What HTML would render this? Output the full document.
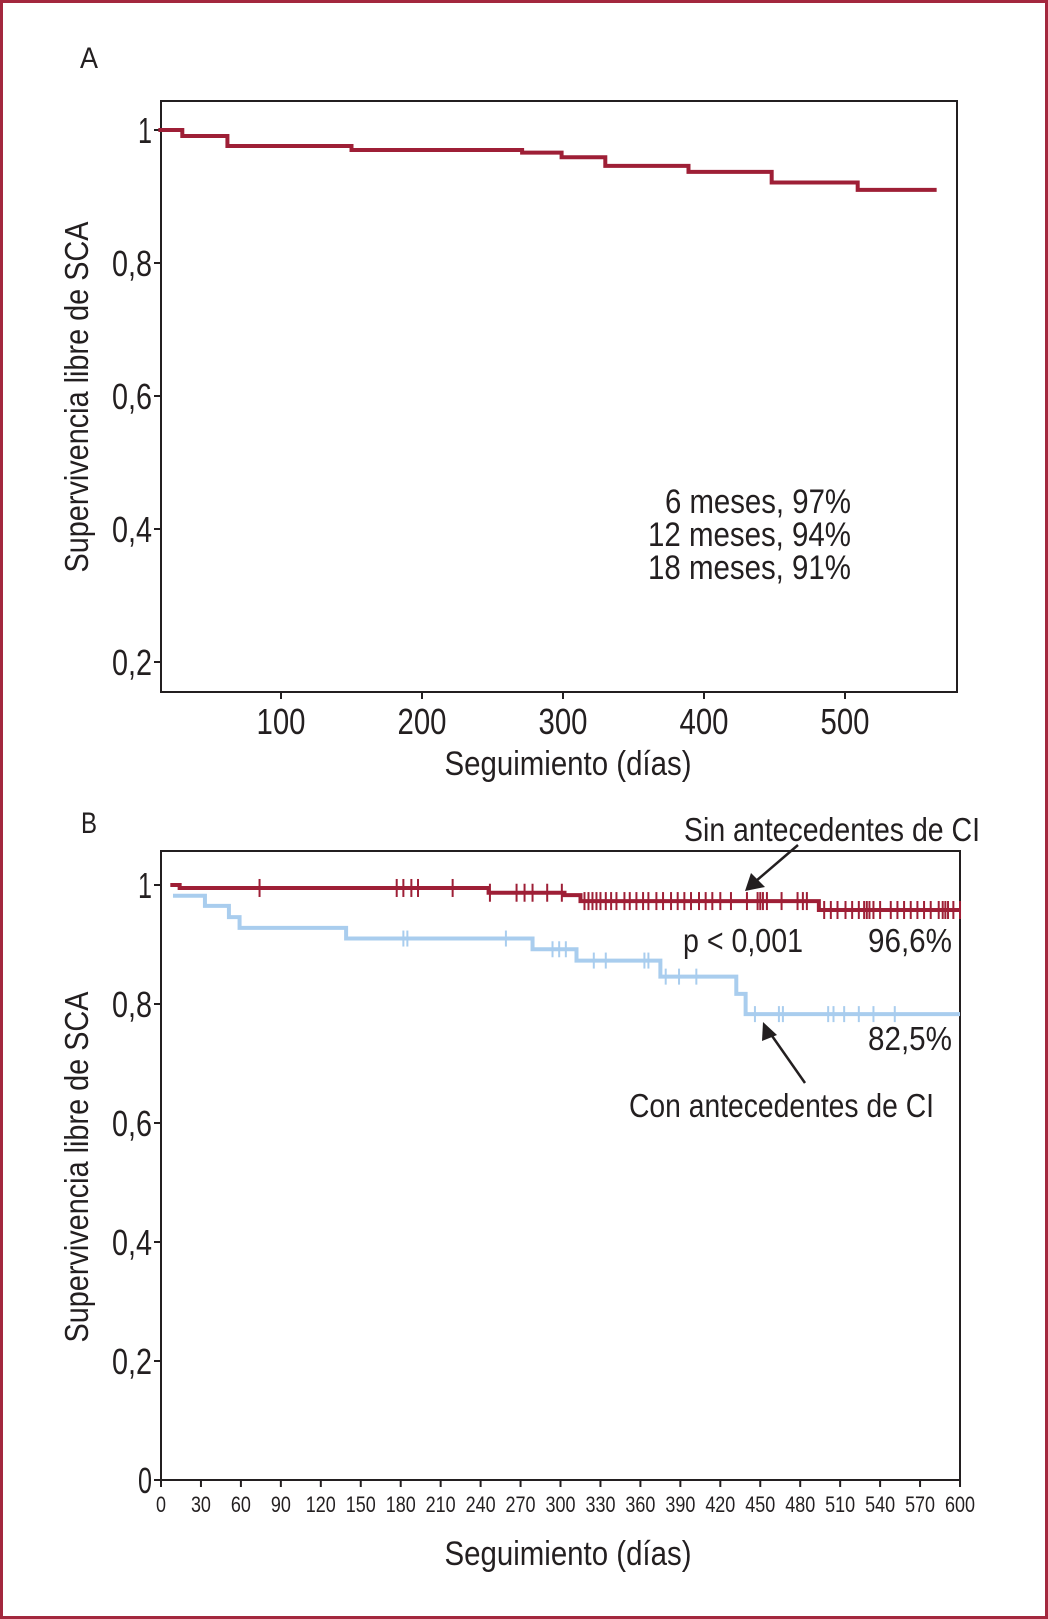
<!DOCTYPE html>
<html><head><meta charset="utf-8"><style>
html,body{margin:0;padding:0;background:#fff}
svg{display:block}
text{font-family:"Liberation Sans Narrow","Liberation Sans",sans-serif;fill:#231f20}
</style></head><body>
<svg id="fig" width="1048" height="1619" viewBox="0 0 1048 1619">
<rect x="1.5" y="1.5" width="1045" height="1616" fill="none" stroke="#a3283e" stroke-width="3"/>
<text x="80" y="68" font-size="30" textLength="18" lengthAdjust="spacingAndGlyphs">A</text>
<text x="81" y="833" font-size="30" textLength="16" lengthAdjust="spacingAndGlyphs">B</text>
<g id="gA"></g>
<g id="gB"></g>
<text x="851" y="513" font-size="34" text-anchor="end" textLength="186" lengthAdjust="spacingAndGlyphs">6 meses, 97%</text>
<text x="851" y="546" font-size="34" text-anchor="end" textLength="203" lengthAdjust="spacingAndGlyphs">12 meses, 94%</text>
<text x="851" y="579" font-size="34" text-anchor="end" textLength="203" lengthAdjust="spacingAndGlyphs">18 meses, 91%</text>
<text x="684" y="841" font-size="33" textLength="296" lengthAdjust="spacingAndGlyphs">Sin antecedentes de CI</text>
<text x="683" y="952" font-size="33" textLength="120" lengthAdjust="spacingAndGlyphs">p &lt; 0,001</text>
<text x="868" y="952" font-size="33" textLength="84" lengthAdjust="spacingAndGlyphs">96,6%</text>
<text x="868" y="1050" font-size="33" textLength="84" lengthAdjust="spacingAndGlyphs">82,5%</text>
<text x="629" y="1117" font-size="33" textLength="305" lengthAdjust="spacingAndGlyphs">Con antecedentes de CI</text>
<line x1="798" y1="845" x2="756" y2="881" stroke="#231f20" stroke-width="2.5"/>
<polygon points="745,891 751,873 765,887" fill="#231f20"/>
<line x1="805" y1="1083" x2="770" y2="1033" stroke="#231f20" stroke-width="2.5"/>
<polygon points="763,1022 777,1035 762,1041" fill="#231f20"/>
</svg>
<script>
// ---- Chart A data ----
const aTimes = [13, 30, 62, 150, 271, 299, 330, 389, 448, 509, 565];
const aSurv  = [1.0, 0.991, 0.976, 0.970, 0.966, 0.959, 0.946, 0.937, 0.921, 0.910, 0.910];
const aXTicks = [100, 200, 300, 400, 500];
const aXTickLabels = ["100", "200", "300", "400", "500"];
const aYTicks = [1, 0.8, 0.6, 0.4, 0.2];
const aYTickLabels = ["1", "0,8", "0,6", "0,4", "0,2"];
// ---- Chart B data ----
const redTimes = [7, 14, 246, 303, 315, 494, 600];
const redSurv  = [1.0, 0.995, 0.987, 0.983, 0.973, 0.958, 0.958];
const blueTimes = [9, 33, 51, 59, 139, 279, 312, 375, 432, 439, 600];
const blueSurv  = [0.982, 0.965, 0.946, 0.928, 0.910, 0.892, 0.873, 0.846, 0.817, 0.783, 0.783];
const redCensor = [74,177,182,188,193,219,247,267,273,279,290,301,318,321,324,327,330,334,338,342,348,352,357,362,366,372,377,383,388,393,398,404,409,414,420,428,440,448,450,452,455,466,478,482,485,498,503,508,514,519,524,528,530,532,535,540,548,553,558,563,568,573,578,584,587,589,591,595,600];
const blueCensor = [182,185,259,294,299,304,325,334,363,366,379,389,402,446,464,467,501,505,513,524,535,551];
const bXTicks = [0,30,60,90,120,150,180,210,240,270,300,330,360,390,420,450,480,510,540,570,600];
const bYTicks = [1, 0.8, 0.6, 0.4, 0.2, 0];
const bYTickLabels = ["1", "0,8", "0,6", "0,4", "0,2", "0"];

const NS = "http://www.w3.org/2000/svg";
function mk(parent, tag, attrs, txt) {
  const e = document.createElementNS(NS, tag);
  for (const k in attrs) e.setAttribute(k, attrs[k]);
  if (txt !== undefined) e.textContent = txt;
  parent.appendChild(e);
  return e;
}
function stepPath(times, surv, xs, ys) {
  let d = "M" + xs(times[0]) + "," + ys(surv[0]);
  for (let i = 1; i < times.length; i++) {
    d += " H" + xs(times[i]) + " V" + ys(surv[i]);
  }
  return d;
}
function survAt(times, surv, t) {
  let v = surv[0];
  for (let i = 0; i < times.length; i++) if (times[i] <= t) v = surv[i];
  return v;
}
function yLabW(s) { return s.length === 1 ? 14 : 40; }

// ---- Chart A ----
(function () {
  const g = document.getElementById("gA");
  const L = 161, R = 957, T = 101, B = 692;
  const xs = d => 140 + d * 1.41;
  const ys = v => 130 + (1 - v) * 665;
  const box = mk(g, "rect", {x: L, y: T, width: R - L, height: B - T, fill: "none", stroke: "#231f20", "stroke-width": 2});
  
  
  aYTicks.forEach((v, i) => {
    const t = mk(g, "line", {x1: L - 7, x2: L, y1: ys(v), y2: ys(v), stroke: "#231f20", "stroke-width": 2});
    
    
    const lb = mk(g, "text", {x: L - 9, y: ys(v) + 13, "font-size": 36, "text-anchor": "end", textLength: yLabW(aYTickLabels[i]), lengthAdjust: "spacingAndGlyphs"}, aYTickLabels[i]);
    
    
  });
  aXTicks.forEach((d, i) => {
    const t = mk(g, "line", {x1: xs(d), x2: xs(d), y1: B, y2: B + 7, stroke: "#231f20", "stroke-width": 2});
    
    
    const lb = mk(g, "text", {x: xs(d), y: 734, "font-size": 36, "text-anchor": "middle", textLength: 49, lengthAdjust: "spacingAndGlyphs"}, aXTickLabels[i]);
    
    
  });
  const p = mk(g, "path", {d: stepPath(aTimes, aSurv, xs, ys), fill: "none", stroke: "#9e1f36", "stroke-width": 4});
  
  
  const xt = mk(g, "text", {x: 568, y: 775, "font-size": 34, "text-anchor": "middle", textLength: 247, lengthAdjust: "spacingAndGlyphs"}, "Seguimiento (días)");
  
  
  const yt = mk(g, "text", {x: 0, y: 0, "font-size": 33, "text-anchor": "middle", textLength: 351, lengthAdjust: "spacingAndGlyphs", transform: "translate(88,397) rotate(-90)"}, "Supervivencia libre de SCA");
  
  
})();

// ---- Chart B ----
(function () {
  const g = document.getElementById("gB");
  const L = 161, R = 960, T = 851, B = 1480;
  const xs = d => 161 + d * 1.3317;
  const ys = v => 1480 - v * 595;
  const box = mk(g, "rect", {x: L, y: T, width: R - L, height: B - T, fill: "none", stroke: "#231f20", "stroke-width": 2});
  
  
  bYTicks.forEach((v, i) => {
    const t = mk(g, "line", {x1: L - 7, x2: L, y1: ys(v), y2: ys(v), stroke: "#231f20", "stroke-width": 2});
    
    
    const lb = mk(g, "text", {x: L - 9, y: ys(v) + 13, "font-size": 36, "text-anchor": "end", textLength: yLabW(bYTickLabels[i]), lengthAdjust: "spacingAndGlyphs"}, bYTickLabels[i]);
    
    
  });
  bXTicks.forEach(d => {
    const t = mk(g, "line", {x1: xs(d), x2: xs(d), y1: B, y2: B + 7, stroke: "#231f20", "stroke-width": 2});
    
    
    const s = String(d);
    const lb = mk(g, "text", {x: xs(d), y: 1512, "font-size": 22, "text-anchor": "middle", textLength: s.length * 10, lengthAdjust: "spacingAndGlyphs"}, s);
    
    
  });
  const pb = mk(g, "path", {d: stepPath(blueTimes, blueSurv, xs, ys), fill: "none", stroke: "#a9cdee", "stroke-width": 4});
  
  
  blueCensor.forEach(t => {
    const y = ys(survAt(blueTimes, blueSurv, t));
    const c = mk(g, "line", {x1: xs(t), x2: xs(t), y1: y - 8, y2: y + 8, stroke: "#a9cdee", "stroke-width": 2});
    
    
  });
  const pr = mk(g, "path", {d: stepPath(redTimes, redSurv, xs, ys), fill: "none", stroke: "#9e1f36", "stroke-width": 4});
  
  
  redCensor.forEach(t => {
    const y = ys(survAt(redTimes, redSurv, t));
    const c = mk(g, "line", {x1: xs(t), x2: xs(t), y1: y - 9, y2: y + 9, stroke: "#9e1f36", "stroke-width": 2});
    
    
  });
  const xt = mk(g, "text", {x: 568, y: 1565, "font-size": 34, "text-anchor": "middle", textLength: 247, lengthAdjust: "spacingAndGlyphs"}, "Seguimiento (días)");
  
  
  const yt = mk(g, "text", {x: 0, y: 0, "font-size": 33, "text-anchor": "middle", textLength: 351, lengthAdjust: "spacingAndGlyphs", transform: "translate(88,1167) rotate(-90)"}, "Supervivencia libre de SCA");
  
  
})();
</script>
</body></html>
